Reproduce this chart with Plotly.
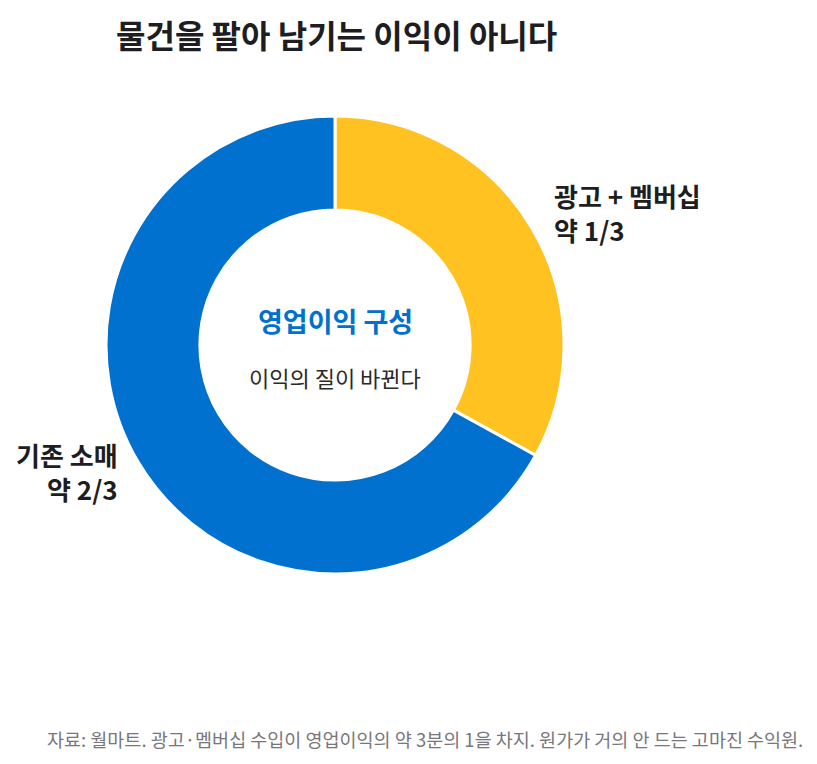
import plotly.graph_objects as go

# 영업이익 구성 (대략적 비중)
segments = ["광고 + 멤버십", "기존 소매"]
shares = [33, 67]
seg_colors = ["#FFC220", "#0071CE"]
seg_labels = ["광고 + 멤버십<br>약 1/3", "기존 소매<br>약 2/3"]

W, H = 817, 764
FONT = "Noto Sans CJK KR"
DARK = "#1d1d22"

# 페이지 기본 여백(8px)을 뺀 그림 좌표
cx, cy, r = 327, 337, 229


def px_x(v):
    return v / W


def px_y(v):
    return 1 - v / H


fig = go.Figure()

fig.add_trace(go.Pie(
    labels=segments,
    values=shares,
    hole=0.59,
    sort=False,
    direction="clockwise",
    rotation=0,
    textinfo="none",
    hoverinfo="label+percent",
    marker=dict(colors=seg_colors, line=dict(color="white", width=3)),
    domain=dict(x=[px_x(cx - r), px_x(cx + r)], y=[px_y(cy + r), px_y(cy - r)]),
    showlegend=False,
))

annotations = [
    # 제목
    dict(text="<b>물건을 팔아 남기는 이익이 아니다</b>", x=px_x(106), y=px_y(1),
         xanchor="left", yanchor="top", font=dict(size=32, color=DARK)),
    # 가운데 텍스트
    dict(text="<b>영업이익 구성</b>", x=px_x(cx), y=px_y(313),
         xanchor="center", yanchor="middle", font=dict(size=27, color="#0071CE")),
    dict(text="이익의 질이 바뀐다", x=px_x(cx), y=px_y(369),
         xanchor="center", yanchor="middle", font=dict(size=22, color="#2a2a2a")),
    # 조각 라벨
    dict(text="<b>" + seg_labels[0] + "</b>", x=px_x(544), y=px_y(205),
         xanchor="left", yanchor="middle", align="left",
         font=dict(size=26, color=DARK)),
    dict(text="<b>" + seg_labels[1] + "</b>", x=px_x(112), y=px_y(463),
         xanchor="right", yanchor="middle", align="right",
         font=dict(size=26, color=DARK)),
    # 출처
    dict(text="자료: 월마트. 광고·멤버십 수입이 영업이익의 약 3분의 1을 차지. 원가가 거의 안 드는 고마진 수익원.",
         x=px_x(797), y=px_y(731), xanchor="right", yanchor="middle",
         font=dict(size=18.5, color="#77777c")),
]

fig.update_layout(
    width=W,
    height=H,
    margin=dict(l=0, r=0, t=0, b=0),
    paper_bgcolor="white",
    plot_bgcolor="white",
    font=dict(family=FONT),
    annotations=[dict(a, xref="paper", yref="paper", showarrow=False) for a in annotations],
)

fig.write_html("out.html")
